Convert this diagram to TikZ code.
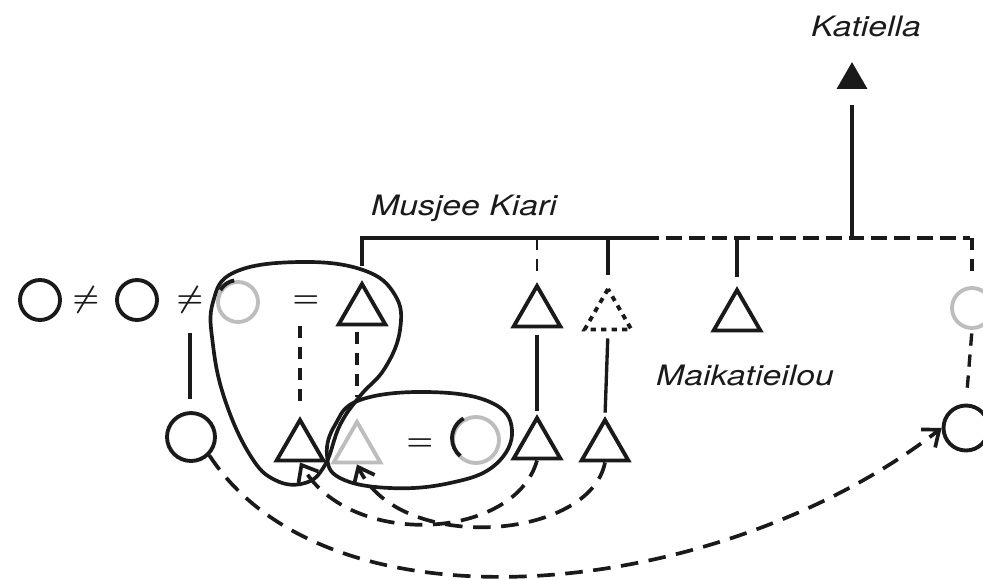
\documentclass[tikz,border=0pt]{standalone}
\usepackage{fontspec}
\newfontfamily\labelfont[FakeStretch=1.2]{TeX Gyre Heros}
\usetikzlibrary{arrows.meta,shapes.geometric}
\definecolor{inkblack}{HTML}{1A1A1A}
\definecolor{fadedgray}{HTML}{BDBDBD}
\tikzset{
  female/.style={circle,draw=inkblack,line width=2.2pt,minimum size=0.8cm,inner sep=0pt},
  male/.style={regular polygon,regular polygon sides=3,draw=inkblack,line width=2.2pt,minimum size=1.08cm,inner sep=0pt},
  faded/.style={draw=fadedgray},
  sign/.style={inkblack,font=\LARGE\boldmath,inner sep=1pt},
  kinname/.style={inkblack,font=\labelfont\itshape\fontsize{16}{19}\selectfont},
  descent/.style={inkblack,line width=1.9pt},
  descentdash/.style={descent,dash pattern=on 7pt off 5pt},
  group/.style={inkblack,line width=2.1pt},
  transfer/.style={inkblack,line width=2.1pt,dash pattern=on 10pt off 6pt,-{Straight Barb[length=8pt,width=13pt,line width=2.1pt]}}
}
\begin{document}
\begin{tikzpicture}[x=0.02cm,y=-0.02cm]
\useasboundingbox (0,0) rectangle (983,579);
% upper generation
\node[female] (c1) at (40,300) {};
\node[sign] (ne1) at (86,300) {$\neq$};
\node[female] (c2) at (137,300) {};
\node[sign] (ne2) at (190,300) {$\neq$};
\node[female,faded] (c3) at (238,302) {};
\node[sign] (eq1) at (306,302) {$=$};
\node[male] (t1) at (362,311) {};
\node[male] (t2) at (537,313) {};
\node[male,dashed] (t3) at (608,316) {};
\node[male] (t4) at (737,317) {};
\node[female,faded] (c4) at (972,308) {};
% lower generation
\node[female,minimum size=0.96cm] (c5) at (191,437) {};
\node[male] (t5) at (300,447) {};
\node[male,faded] (t6) at (357,449) {};
\node[sign] (eq2) at (420,445) {$=$};
\node[female,faded,minimum size=0.92cm] (c6) at (476,440) {};
\node[male] (t7) at (537,445) {};
\node[male] (t8) at (605,447) {};
\node[female,minimum size=0.9cm] (c7) at (966,428) {};
\node[male,fill=inkblack,minimum size=0.56cm] (k) at (852,80) {};
\draw[inkblack,line width=2.2pt] (c3.100) arc[start angle=100,end angle=150,radius=0.4cm];
\draw[inkblack,line width=2.2pt] (c6.120) arc[start angle=120,end angle=230,radius=0.46cm];

% sibling bar
\coordinate (barL) at (362,238);
\coordinate (barM) at (643,238);
\coordinate (barR) at (970,238);
\draw[descent,shorten <=8pt] (t1.north) -- (t1.north |- barL) -- (barM);
\draw[descent,dash pattern=on 9pt off 4pt] (barM) -- (barR);
\draw[descentdash,line width=1.2pt,shorten >=5pt] (t2.north |- barL) -- (t2.north);
\draw[descent,shorten >=6pt] (t3.north |- barL) -- (t3.north);
\draw[descent,shorten >=5pt] (t4.north |- barL) -- (t4.north);
\draw[descent,shorten >=9pt] (k.south |- barL) -- (k.south);
\draw[descentdash,shorten >=4pt] (c4.north |- barL) -- (c4.north);

% descent lines
\draw[descent,shorten <=10pt,shorten >=7pt] (ne2.south) -- (ne2.south |- c5.north);
\draw[descentdash,shorten <=9pt,shorten >=8pt] (t5.north |- eq1.south) -- (t5.north);
\draw[descentdash,shorten <=3pt,shorten >=12pt] (t6.north |- t1.south) -- (t6.north);
\draw[descent,shorten <=4pt,shorten >=2pt] (t2.south) -- (t7.north);
\draw[descent,shorten <=4pt,shorten >=2pt] (t3.south) -- (t8.north);
\draw[descentdash,shorten <=2pt,shorten >=6pt] (c4.south) -- (c7.north);

% groupings
\draw[group] plot[smooth cycle,tension=0.7] coordinates {(213,302) (235,272) (300,262) (363,270) (395,295) (400,330) (385,368) (360,396) (340,425) (325,465) (305,483) (275,480) (250,455) (225,400) (213,345)};
\draw[group] plot[smooth cycle,tension=0.7] coordinates {(360,400) (427,392) (490,402) (512,430) (495,465) (450,483) (390,488) (340,478) (327,455) (335,425)};

\node[kinname] (musjee) at (464,208) {Musjee Kiari};
\node[kinname] (maik) at (745,375) {Maikatieilou};
\node[kinname] (katiella) at (866,26) {Katiella};

% exchanges
\draw[transfer] (c5.south east) .. controls (330,640) and (720,600) .. (c7.west);
\draw[transfer] (t7.south) .. controls (515,540) and (350,550) .. (t5.south);
\draw[transfer] (t8.south) .. controls (590,540) and (400,555) .. (t6.south);
\end{tikzpicture}
\end{document}
